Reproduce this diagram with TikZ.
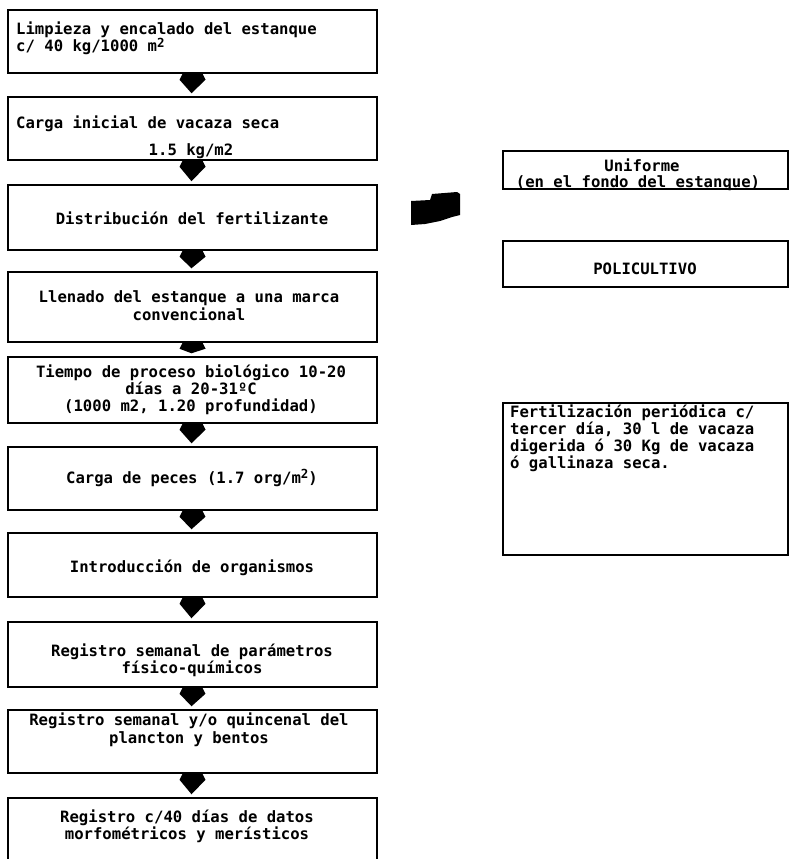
\documentclass[tikz,border=0pt]{standalone}
\usepackage{fontspec}
\setmainfont{DejaVu Sans Mono}
\usetikzlibrary{calc}
\tikzset{
  box/.style={draw=black, line width=1.5pt, inner sep=0pt},
  lbox/.style={box, minimum width=369pt},
  rbox/.style={box, minimum width=285pt},
  txt/.style={inner sep=0pt, align=center, text=black, font=\bfseries\fontsize{15.6}{17}\selectfont},
}
\newcommand\blkarrow[2]{%
  \fill[black] let \p1=(#1.south), \p2=(#2.north) in
    (\x1-10pt,\y1) -- (\x1+10pt,\y1) -- (\x1+13pt,\y1-6pt) -- (\x1+6pt,{\y1-6pt+0.5*(\y2+9pt-\y1)})
    -- (\x1-1pt,\y2+3pt) -- (\x1-7pt,{\y1-6pt+0.5*(\y2+9pt-\y1)}) -- (\x1-13pt,\y1-6pt) -- cycle;}
\newcommand\sqr{\raisebox{4.5pt}{\fontsize{12.5}{13}\selectfont 2}}
\begin{document}
\begin{tikzpicture}[x=1pt,y=-1pt]
\useasboundingbox (0,0) rectangle (789,859);
\fill[white] (0,0) rectangle (789,859);
\clip (0,0) rectangle (789,859);

% left column boxes
\node[lbox, minimum height=63pt] (b1) at (192.5,41.5) {};
\node[lbox, minimum height=63pt] (b2) at (192.5,128.5) {};
\node[lbox, minimum height=65pt] (b3) at (192.5,217.5) {};
\node[lbox, minimum height=70pt] (b4) at (192.5,307) {};
\node[lbox, minimum height=66pt] (b5) at (192.5,390) {};
\node[lbox, minimum height=63pt] (b6) at (192.5,478.5) {};
\node[lbox, minimum height=64pt] (b7) at (192.5,565) {};
\node[lbox, minimum height=65pt] (b8) at (192.5,654.5) {};
\node[lbox, minimum height=63pt] (b9) at (192.5,741.5) {};
\node[lbox, minimum height=82pt] (b10) at (192.5,839) {};

% texts
\node[txt, anchor=base west] (t1a) at (16,35) {Limpieza y encalado del estanque};
\node[txt, anchor=base west] (t1b) at (16,52) {c/ 40 kg/1000 m\sqr};
\node[txt, anchor=base west] (t2a) at (16,128) {Carga inicial de vacaza seca};
\node[txt, anchor=base] (t2b) at (191,155) {1.5 kg/m2};
\node[txt] (t3) at (192,218) {Distribución del fertilizante};
\node[txt, font=\bfseries\fontsize{15.6}{18}\selectfont] (t4) at (189,306) {Llenado del estanque a una marca\\convencional};
\node[txt] (t5) at (191,390) {Tiempo de proceso biológico 10-20\\días a 20-31ºC\\(1000 m2, 1.20 profundidad)};
\node[txt] (t6) at (192,478) {Carga de peces (1.7 org/m\sqr)};
\node[txt] (t7) at (192,568) {Introducción de organismos};
\node[txt] (t8) at (192,660) {Registro semanal de parámetros\\físico-químicos};
\node[txt, font=\bfseries\fontsize{15.6}{17.5}\selectfont] (t9) at (189,730) {Registro semanal y/o quincenal del\\plancton y bentos};
\node[txt] (t10) at (187,826) {Registro c/40 días de datos\\morfométricos y merísticos};

% arrows between boxes
\blkarrow{b1}{b2}
\blkarrow{b2}{b3}
\blkarrow{b3}{b4}
\blkarrow{b4}{b5}
\blkarrow{b5}{b6}
\blkarrow{b6}{b7}
\blkarrow{b7}{b8}
\blkarrow{b8}{b9}
\blkarrow{b9}{b10}

% right column
\node[rbox, minimum height=38pt] (r1) at (645.5,170) {};
\node[txt, anchor=base] (u1) at (642,171) {Uniforme};
\node[txt, anchor=base] (u2) at (638,187) {(en el fondo del estanque)};
\node[rbox, minimum height=46pt] (r2) at (645.5,264) {};
\node[txt] (u3) at (645,269) {POLICULTIVO};
\node[rbox, minimum height=152pt] (r3) at (645.5,479) {};
\node[txt, align=left, anchor=north west] (u4) at (510,405)
  {Fertilización periódica c/\\tercer día, 30 l de vacaza\\digerida ó 30 Kg de vacaza\\ó gallinaza seca.};

% big block arrow from the distribution step
\fill[black] (411,201) -- (430,200) -- (432,194) -- (457,192) -- (460,194) -- (460,215)
  -- (452,217) -- (440,221) -- (425,224) -- (411,225) -- cycle;
\end{tikzpicture}
\end{document}
